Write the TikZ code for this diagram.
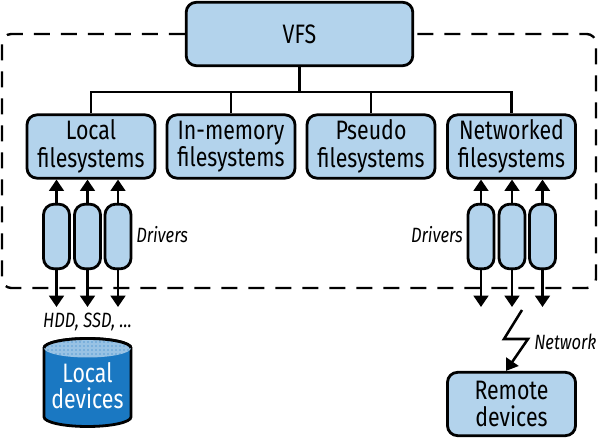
\documentclass[tikz,border=0pt]{standalone}
\usepackage{fontspec}
\setmainfont[FakeStretch=0.8]{Fira Sans}
\usetikzlibrary{arrows.meta,patterns,calc}
\definecolor{boxblue}{HTML}{B3D3EC}
\definecolor{diskblue}{HTML}{1A78C2}
\tikzset{
  x=0.75pt,y=-0.75pt,
  fsbox/.style={draw=black,line width=2.1pt,fill=boxblue,rounded corners=7.5pt,align=center,font=\fontsize{20}{20.5}\selectfont,inner sep=0pt,minimum width=96pt,minimum height=47.5pt},
  drv/.style={draw=black,line width=2.1pt,fill=boxblue,rounded corners=8pt,inner sep=0pt,minimum width=19.5pt,minimum height=48.5pt},
  conn/.style={line width=1.9pt,-{Triangle[length=8.5pt,width=11pt]}},
  trunk/.style={line width=1.7pt},
  boundary/.style={line width=1.8pt,dash pattern=on 12pt off 8.25pt,rounded corners=7pt},
  lbl/.style={font=\itshape\fontsize{15.5}{15}\selectfont,inner sep=0pt}
}
\begin{document}
\begin{tikzpicture}
\useasboundingbox (0,0) rectangle (600,438);
\node[fsbox,minimum width=170pt] (vfs) at (299.5,34) {VFS};
\draw[boundary] (vfs.west) -- (2,34) -- (2,288) -- (596,288) -- (596,34) -- (vfs.east);
\node[fsbox] (local) at (91,146.5) {Local\\filesystems};
\node[fsbox] (mem) at (231,146.5) {In-memory\\filesystems};
\node[fsbox] (pseudo) at (371,146.5) {Pseudo\\filesystems};
\node[fsbox] (net) at (511.5,146.5) {Networked\\filesystems};
\coordinate (bus) at (299.5,92);
\draw[line width=2.4pt] (vfs.south) -- (bus);
\draw[trunk] (local.north) |- (bus) -| (net.north);
\draw[trunk] (mem.north) -- (mem.north |- bus);
\draw[trunk] (pseudo.north) -- (pseudo.north |- bus);
\node[drv] (l1) at (56.5,236.5) {};
\node[drv] (l2) at (87.5,236.5) {};
\node[drv] (l3) at (118,236.5) {};
\node[drv] (r1) at (481,236.5) {};
\node[drv] (r2) at (512,236.5) {};
\node[drv] (r3) at (542.5,236.5) {};
\coordinate (la1) at (56.5,307);\coordinate (la2) at (87.5,307);\coordinate (la3) at (118,307);
\coordinate (ra1) at (481,307);\coordinate (ra2) at (512,307);\coordinate (ra3) at (542.5,307);
\foreach \d/\e in {l1/la1,l2/la2,l3/la3,r1/ra1,r2/ra2,r3/ra3}{
  \draw[conn] (\d.south) -- (\e);
}
\draw[conn] (l1.north) -- (l1.north |- local.south);
\draw[conn] (l2.north) -- (l2.north |- local.south);
\draw[conn] (l3.north) -- (l3.north |- local.south);
\draw[conn] (r1.north) -- (r1.north |- net.south);
\draw[conn] (r2.north) -- (r2.north |- net.south);
\draw[conn] (r3.north) -- (r3.north |- net.south);
\node[lbl,anchor=west] (d1) at (136,235) {Drivers};
\node[lbl,anchor=east] (d2) at (463,235) {Drivers};
\node[lbl] (hdd) at (87.5,322) {HDD, SSD, …};
\node[lbl,anchor=west] (nw) at (534,342) {Network};
% disk
\path[draw=black,line width=2.1pt,fill=diskblue] (44,348) -- (44,417) arc[start angle=180,end angle=0,x radius=43.5,y radius=9.5] -- (131,348) arc[start angle=360,end angle=180,x radius=43.5,y radius=9.5] -- cycle;
\path[fill=diskblue!45!white] (44,348) arc[start angle=180,end angle=0,x radius=43.5,y radius=9.5] arc[start angle=360,end angle=180,x radius=43.5,y radius=9.5] -- cycle;
\path[pattern=dots,pattern color=diskblue] (44,348) arc[start angle=180,end angle=0,x radius=43.5,y radius=9.5] arc[start angle=360,end angle=180,x radius=43.5,y radius=9.5] -- cycle;
\draw[line width=2.1pt] (44,348) arc[start angle=180,end angle=360,x radius=43.5,y radius=9.5];
\node[align=center,text=white,font=\fontsize{20}{20}\selectfont,inner sep=0pt] (disk) at (87.5,385.5) {Local\\devices};
\node[fsbox] (remote) at (511.5,404) {Remote\\devices};
\coordinate (z0) at (522,310);
\draw[conn] (z0) -- (504,339) -- (528,339) -- ($(remote.north)+(-5.5,0)$);
\end{tikzpicture}
\end{document}
